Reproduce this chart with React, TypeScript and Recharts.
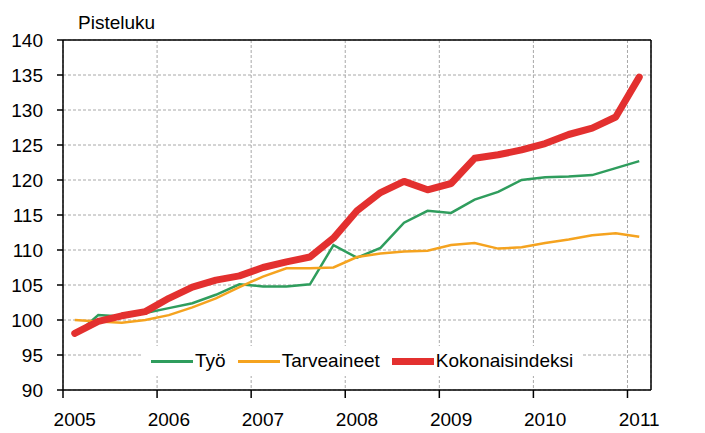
import React from 'react';
import { LineChart, Line, XAxis, YAxis, CartesianGrid, ReferenceLine } from 'recharts';

const quarters = [
  '2005Q1', '2005Q2', '2005Q3', '2005Q4',
  '2006Q1', '2006Q2', '2006Q3', '2006Q4',
  '2007Q1', '2007Q2', '2007Q3', '2007Q4',
  '2008Q1', '2008Q2', '2008Q3', '2008Q4',
  '2009Q1', '2009Q2', '2009Q3', '2009Q4',
  '2010Q1', '2010Q2', '2010Q3', '2010Q4',
  '2011Q1',
];

const tyo = [
  97.8, 100.7, 100.5, 101.0, 101.7, 102.4, 103.6, 105.1, 104.8, 104.8, 105.1, 110.7,
  108.9, 110.3, 113.9, 115.6, 115.3, 117.2, 118.3, 120.0, 120.4, 120.5, 120.7, 121.7, 122.7,
];

const tarveaineet = [
  100.0, 99.8, 99.6, 100.0, 100.7, 101.8, 103.1, 104.7, 106.2, 107.4, 107.4, 107.5,
  109.0, 109.5, 109.8, 109.9, 110.7, 111.0, 110.2, 110.4, 111.0, 111.5, 112.1, 112.4, 111.9,
];

const kokonaisindeksi = [
  98.1, 99.8, 100.6, 101.2, 103.1, 104.7, 105.7, 106.3, 107.5, 108.3, 109.0, 111.7,
  115.6, 118.2, 119.8, 118.6, 119.5, 123.1, 123.6, 124.3, 125.2, 126.5, 127.4, 129.0, 134.7,
];

const yearLabels = ['2005', '2006', '2007', '2008', '2009', '2010', '2011'];
// year boundaries sit half a quarter before each Q1 point
const yearBoundaryIdx = [-0.5, 3.5, 7.5, 11.5, 15.5, 19.5, 23.5];
const yTicks = [90, 95, 100, 105, 110, 115, 120, 125, 130, 135, 140];

const GREEN = '#2f9d5d';
const ORANGE = '#f5a31f';
const RED = '#e3302f';
const GRID = '#a8a8a8';
const FONT = '"Liberation Sans", Arial, sans-serif';

const data = quarters.map((q, i) => ({
  q,
  i,
  tyo: tyo[i],
  tarveaineet: tarveaineet[i],
  kokonaisindeksi: kokonaisindeksi[i],
}));

const legendItems = [
  { name: 'Työ', color: GREEN, width: 3, gap: 12 },
  { name: 'Tarveaineet', color: ORANGE, width: 3, gap: 12 },
  { name: 'Kokonaisindeksi', color: RED, width: 7, gap: 0 },
];

const LegendBox = () => (
  <div
    style={{
      position: 'absolute',
      left: 143,
      top: 346,
      background: '#fff',
      display: 'flex',
      alignItems: 'center',
      padding: '4px 8px',
      fontFamily: FONT,
      fontSize: 19,
      color: '#000',
      whiteSpace: 'nowrap',
    }}
  >
    {legendItems.map((it) => (
      <div key={it.name} style={{ display: 'flex', alignItems: 'center', marginRight: it.gap }}>
        <div style={{ width: 42, height: it.width, background: it.color, marginRight: 2 }} />
        <span>{it.name}</span>
      </div>
    ))}
  </div>
);

const tickStyle = { fill: '#000', fontSize: 19, fontFamily: FONT };

// year label centred on the Q1 point, i.e. half a quarter right of the boundary tick
const YearTick = (props: any) => {
  const { x, y, index } = props;
  const halfQuarter = 588 / 25 / 2;
  return (
    <text x={x + halfQuarter} y={y + 26} textAnchor="middle" {...tickStyle}>
      {yearLabels[index]}
    </text>
  );
};

export default function App() {
  return (
    <div style={{ position: 'absolute', left: 0, top: 0, width: 705, height: 433, background: '#fff' }}>
      <div
        style={{
          position: 'absolute',
          left: 78,
          top: 12,
          fontFamily: FONT,
          fontSize: 19,
          color: '#000',
        }}
      >
        Pisteluku
      </div>
      <LineChart width={705} height={433} data={data} margin={{ top: 40, right: 0, left: 0, bottom: 0 }}>
        <CartesianGrid
          xAxisId="main"
          yAxisId="left"
          stroke={GRID}
          strokeDasharray="3 2"
        />
        <XAxis
          xAxisId="main"
          type="number"
          dataKey="i"
          domain={[-0.5, 24.5]}
          ticks={yearBoundaryIdx}
          tick={<YearTick />}
          axisLine={{ stroke: '#000', strokeWidth: 1.5 }}
          tickLine={{ stroke: '#000', strokeWidth: 1.5 }}
          tickSize={8}
          height={43}
          interval={0}
        />
        <YAxis
          yAxisId="left"
          domain={[90, 140]}
          ticks={yTicks}
          width={63}
          tickSize={6}
          tickMargin={14}
          axisLine={{ stroke: '#000', strokeWidth: 1.5 }}
          tickLine={{ stroke: '#000', strokeWidth: 1.5 }}
          tick={tickStyle}
          interval={0}
        />
        <YAxis
          yAxisId="right"
          orientation="right"
          domain={[90, 140]}
          ticks={yTicks}
          width={54}
          tickSize={6}
          tickMargin={17}
          axisLine={{ stroke: '#000', strokeWidth: 1.5 }}
          tickLine={{ stroke: '#000', strokeWidth: 1.5 }}
          tick={tickStyle}
          interval={0}
        />
        <ReferenceLine xAxisId="main" yAxisId="left" y={140} stroke="#000" strokeWidth={1.5} />
        <Line
          xAxisId="main"
          yAxisId="left"
          type="linear"
          dataKey="tyo"
          name="Työ"
          stroke={GREEN}
          strokeWidth={2.5}
          dot={false}
          isAnimationActive={false}
        />
        <Line
          xAxisId="main"
          yAxisId="left"
          type="linear"
          dataKey="tarveaineet"
          name="Tarveaineet"
          stroke={ORANGE}
          strokeWidth={2.5}
          dot={false}
          isAnimationActive={false}
        />
        <Line
          xAxisId="main"
          yAxisId="left"
          type="linear"
          dataKey="kokonaisindeksi"
          name="Kokonaisindeksi"
          stroke={RED}
          strokeWidth={7}
          strokeLinejoin="round"
          strokeLinecap="round"
          dot={false}
          isAnimationActive={false}
        />
      </LineChart>
      <LegendBox />
    </div>
  );
}
